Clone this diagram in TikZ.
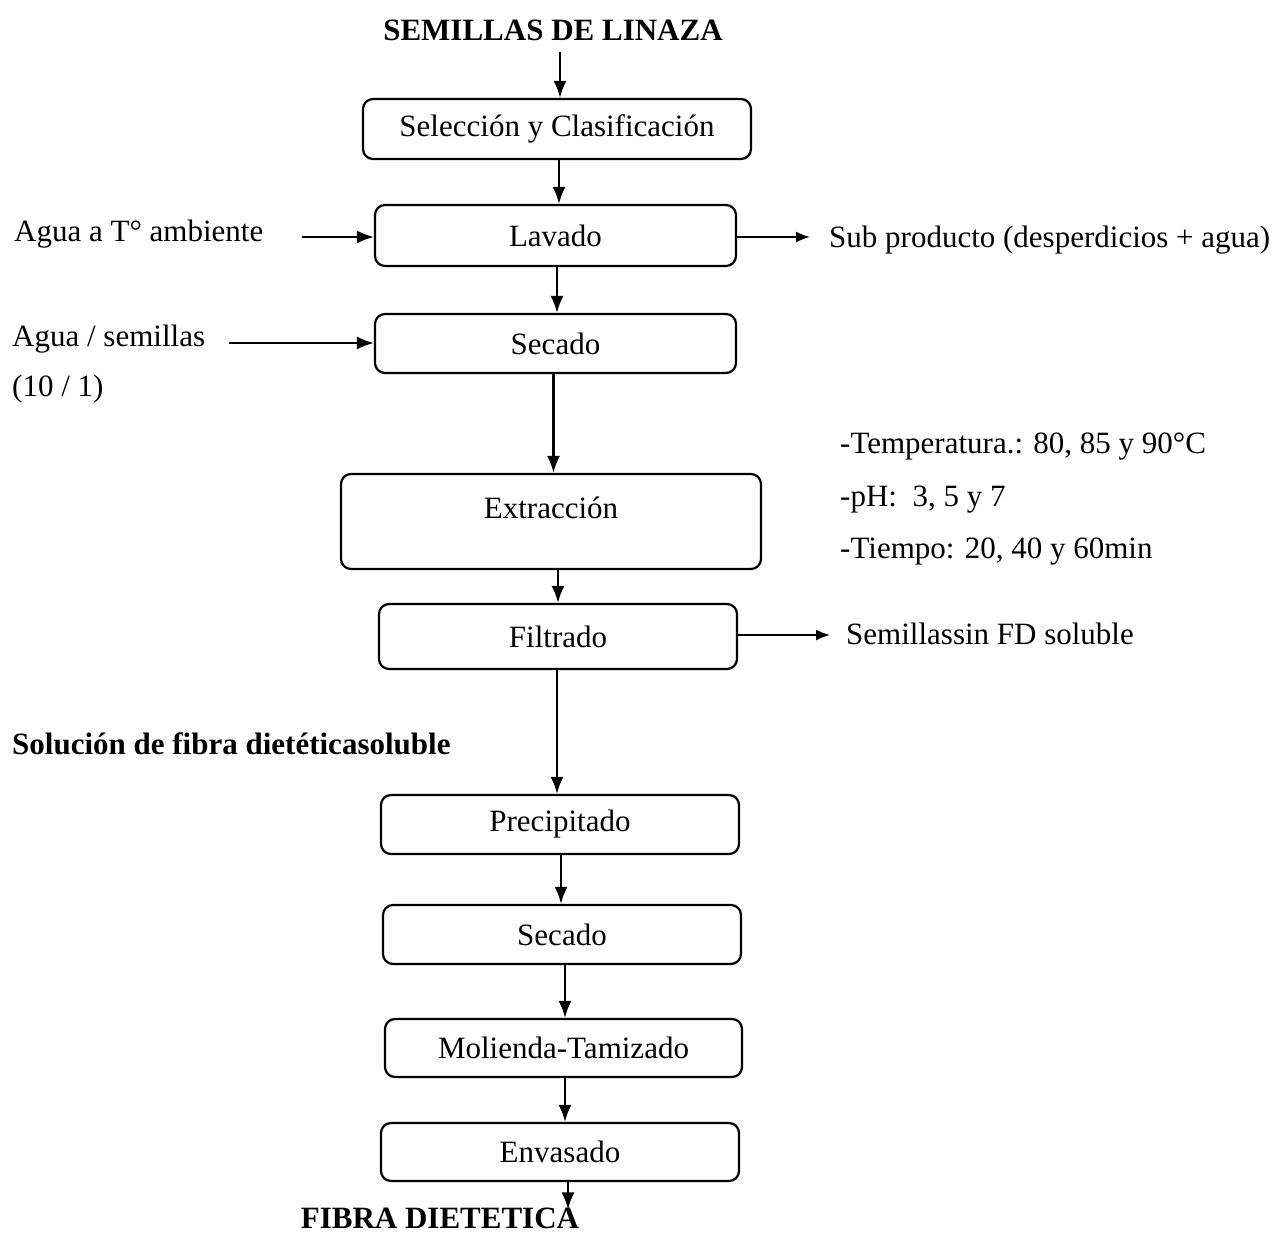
\documentclass[tikz,border=0pt]{standalone}
\usepackage{fontspec}
\setmainfont{Liberation Serif}
\usetikzlibrary{arrows.meta}
\begin{document}
\begin{tikzpicture}[x=1pt,y=-1pt,
  every node/.style={font=\fontsize{31}{37}\selectfont, inner sep=0pt},
  box/.style={draw, line width=2.2pt, rounded corners=10pt, minimum height=59pt},
  arr/.style={line width=2.2pt, -{Latex[length=17pt,width=13pt]}},
  arrthin/.style={line width=1.6pt, -{Latex[length=14pt,width=11pt]}},
  lbl/.style={anchor=west},
  bold/.style={font=\fontsize{31}{37}\selectfont\bfseries}]
\useasboundingbox (0,0) rectangle (1280,1234);
\fill[white] (0,0) rectangle (1280,1234);

% titles
\node[bold] (sem) at (553,30) {SEMILLAS DE LINAZA};
\node[bold] (fib) at (440,1218) {FIBRA DIETETICA};
\node[bold, lbl] (sol) at (12,744) {Solución de fibra dietéticasoluble};

% process boxes
\node[box, minimum width=388pt, minimum height=60pt] (sel) at (557,129) {Selección y Clasificación};
\node[box, minimum width=361pt, minimum height=61pt] (lav) at (555.5,235.5) {Lavado};
\node[box, minimum width=361pt] (sec1) at (555.5,343.5) {Secado};
\node[box, minimum width=420pt, minimum height=95pt] (ext) at (551,521.5) {};
\node (extl) at (551,508) {Extracción};
\node[box, minimum width=358pt, minimum height=65pt] (fil) at (558,636.5) {Filtrado};
\node[box, minimum width=358pt] (pre) at (560,824.5) {Precipitado};
\node[box, minimum width=358pt] (sec2) at (562,934.5) {Secado};
\node[box, minimum width=357pt, minimum height=58pt] (mol) at (563.5,1048) {Molienda-Tamizado};
\node[box, minimum width=358pt, minimum height=58pt] (env) at (560,1152) {Envasado};

% side labels
\node[lbl] (agua1) at (14,234) {Agua a T° ambiente};
\node[lbl] (agua2) at (12,339) {Agua / semillas};
\node[lbl] (ratio) at (12,389) {(10 / 1)};
\node[lbl] (sub) at (829,240) {Sub producto (desperdicios + agua)};
\node[lbl] (semsol) at (846,634) {Semillassin FD soluble};
\node[lbl] (temp) at (840,447) {-Temperatura.: 80, 85 y 90°C};
\node[lbl] (ph) at (840,500) {-pH:\ \ 3, 5 y 7};
\node[lbl] (tiempo) at (840,552) {-Tiempo: 20, 40 y 60min};

% main flow
\coordinate (s0) at (560,52);
\draw[arr] (s0) -- (s0 |- sel.north);
\draw[arr] ([xshift=2pt]sel.south) -- ([xshift=2pt]sel.south |- lav.north);
\draw[arr] ([xshift=1.5pt]lav.south) -- ([xshift=1.5pt]lav.south |- sec1.north);
\draw[arr] ([xshift=-2pt]sec1.south) -- ([xshift=-2pt]sec1.south |- ext.north);
\draw[arr] ([xshift=7pt]ext.south) -- ([xshift=7pt]ext.south |- fil.north);
\draw[arr] ([xshift=-1pt]fil.south) -- ([xshift=-1pt]fil.south |- pre.north);
\draw[arr] ([xshift=1pt]pre.south) -- ([xshift=1pt]pre.south |- sec2.north);
\draw[arr] ([xshift=3pt]sec2.south) -- ([xshift=3pt]sec2.south |- mol.north);
\draw[arr] ([xshift=1.5pt]mol.south) -- ([xshift=1.5pt]mol.south |- env.north);
\draw[arr] ([xshift=8pt]env.south) -- ([xshift=8pt,yshift=-2pt]env.south |- fib.north);

% side inputs / outputs
\coordinate (a1) at (302,237);
\draw[arr] (a1) -- (a1 -| lav.west);
\coordinate (a2) at (229,343);
\draw[arr] (a2) -- (a2 -| sec1.west);
\coordinate (o1) at (810,237);
\draw[arrthin] (o1 -| lav.east) -- (o1);
\coordinate (o2) at (830,635);
\draw[arrthin] (o2 -| fil.east) -- (o2);
\end{tikzpicture}
\end{document}
